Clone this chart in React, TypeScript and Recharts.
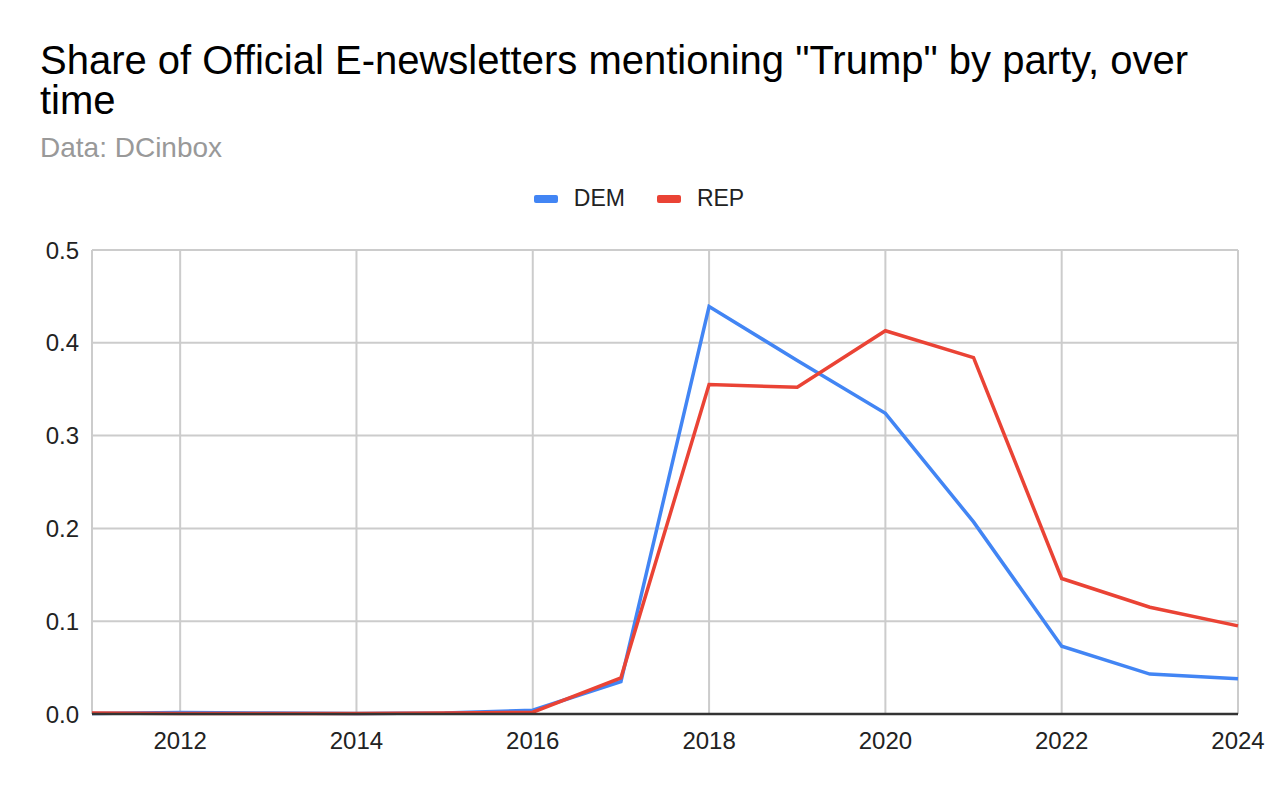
import { CartesianGrid, Line, LineChart, XAxis, YAxis } from "recharts";

// Values (share of newsletters, 0–1).
const YEARS = [2011, 2012, 2013, 2014, 2015, 2016, 2017, 2018, 2019, 2020, 2021, 2022, 2023, 2024];
const DEM = [0.0005, 0.0015, 0.001, 0.0005, 0.001, 0.004, 0.035, 0.439, 0.381, 0.324, 0.207, 0.073, 0.043, 0.038];
const REP = [0.001, 0.0005, 0.0005, 0.0005, 0.001, 0.002, 0.039, 0.355, 0.352, 0.413, 0.384, 0.146, 0.115, 0.095];

const X_TICKS = [2012, 2014, 2016, 2018, 2020, 2022, 2024];
const Y_TICKS = [0, 0.1, 0.2, 0.3, 0.4, 0.5];

const SERIES = [
  { key: "DEM", color: "#4285f4" },
  { key: "REP", color: "#ea4335" },
];

const FONT = "'Liberation Sans', Arial, Helvetica, sans-serif";

const rows = YEARS.map((year, i) => ({ year, DEM: DEM[i], REP: REP[i] }));

export default function App() {
  return (
    <div style={{ position: "absolute", left: 0, top: 0, width: 1278, height: 790, background: "#fff", fontFamily: FONT }}>
      <LineChart
        width={1278}
        height={790}
        data={rows}
        margin={{ top: 250, right: 40, bottom: 36, left: 0 }}
        style={{ position: "absolute", left: 0, top: 0 }}
      >
        <CartesianGrid stroke="#cccccc" strokeWidth={2} />
        <XAxis
          dataKey="year"
          type="number"
          domain={[2011, 2024]}
          ticks={X_TICKS}
          height={40}
          tickLine={false}
          tickMargin={12}
          axisLine={{ stroke: "#333333", strokeWidth: 2.5 }}
          tick={{ fill: "#222222", fontSize: 24, fontFamily: FONT }}
        />
        <YAxis
          type="number"
          domain={[0, 0.5]}
          ticks={Y_TICKS}
          width={92}
          axisLine={false}
          tickLine={false}
          tickMargin={7}
          tickFormatter={(v: number) => v.toFixed(1)}
          tick={{ fill: "#222222", fontSize: 24, fontFamily: FONT }}
        />
        {SERIES.map((s) => (
          <Line
            key={s.key}
            type="linear"
            dataKey={s.key}
            stroke={s.color}
            strokeWidth={3.5}
            dot={false}
            isAnimationActive={false}
          />
        ))}
      </LineChart>

      <div style={{ position: "absolute", left: 40, top: 40, width: 1200, fontSize: 40, lineHeight: "40px", color: "#000" }}>
        Share of Official E-newsletters mentioning "Trump" by party, over time
      </div>
      <div style={{ position: "absolute", left: 40, top: 132, fontSize: 28, color: "#999999" }}>Data: DCinbox</div>

      <div
        style={{
          position: "absolute",
          top: 185,
          left: 0,
          width: 1278,
          display: "flex",
          justifyContent: "center",
          gap: 32,
          fontSize: 23,
          color: "#222222",
        }}
      >
        {SERIES.map((s) => (
          <div key={s.key} style={{ display: "flex", alignItems: "center" }}>
            <span style={{ display: "inline-block", width: 24, height: 8, borderRadius: 2, background: s.color, marginRight: 16 }} />
            <span>{s.key}</span>
          </div>
        ))}
      </div>
    </div>
  );
}
